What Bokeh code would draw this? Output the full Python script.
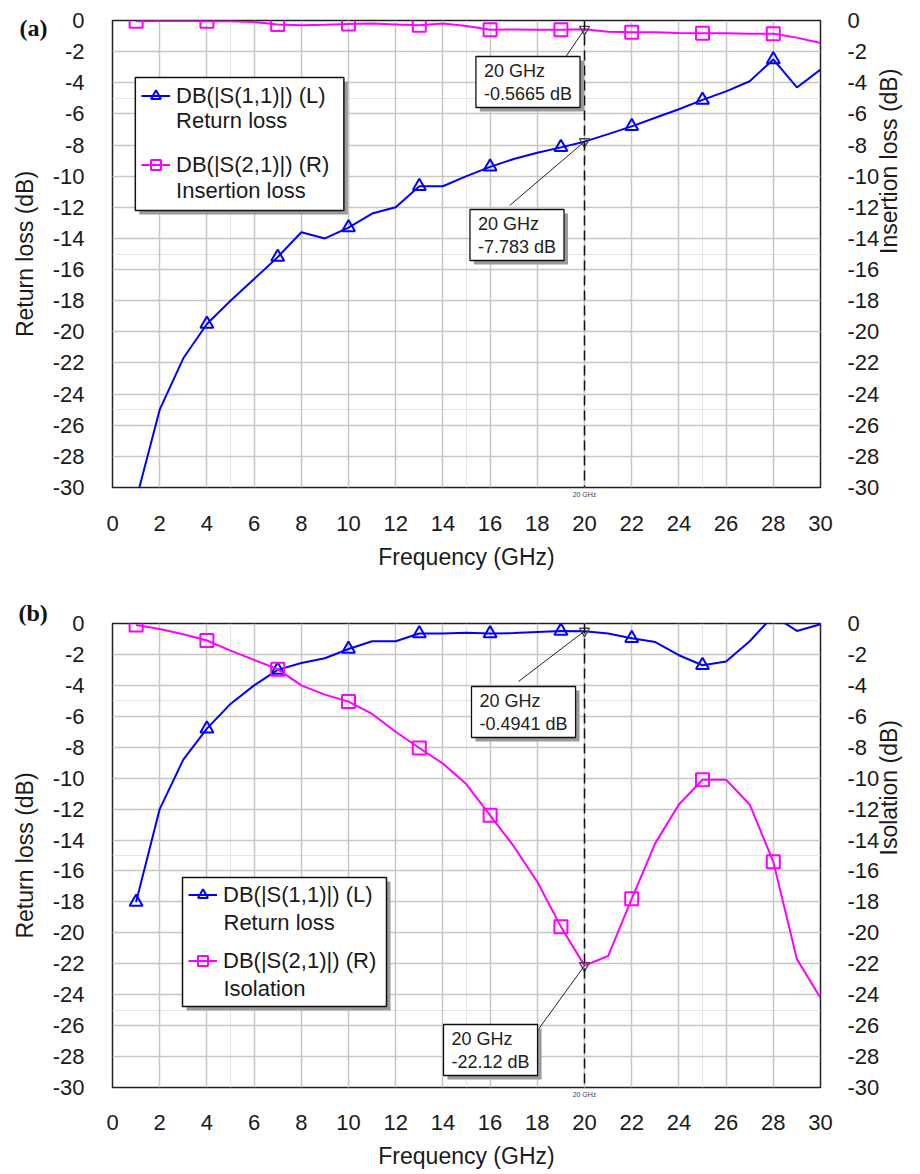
import math
from bokeh.plotting import figure
from bokeh.models import (Range1d, LinearAxis, Span, Label, Legend, LegendItem, Grid, Title,
                          SingleIntervalTicker, FixedTicker, BoxAnnotation, ColumnDataSource,
                          PrintfTickFormatter)
from bokeh.layouts import column
from bokeh.embed import file_html
from bokeh.resources import INLINE

# ---------------- data ----------------
freq = list(range(1, 31))
marker_freq = [1, 4, 7, 10, 13, 16, 19, 22, 25, 28]

# panel (a)
s11_a = [-30.8, -25.0, -21.7, -19.5, -18.0, -16.6, -15.2, -13.6, -14.0, -13.3,
         -12.4, -12.0, -10.65, -10.65, -10.0, -9.4, -8.9, -8.5, -8.15, -7.783,
         -7.3, -6.8, -6.25, -5.7, -5.1, -4.55, -3.9, -2.5, -4.3, -3.15]
s21_a = [-0.05, -0.03, -0.02, -0.05, -0.05, -0.1, -0.25, -0.3, -0.28, -0.22,
         -0.2, -0.25, -0.3, -0.2, -0.35, -0.6, -0.58, -0.6, -0.6, -0.5665,
         -0.72, -0.75, -0.75, -0.8, -0.82, -0.82, -0.85, -0.85, -1.1, -1.45]
# panel (b)
s11_b = [-18.0, -12.0, -8.8, -6.8, -5.2, -4.0, -3.0, -2.55, -2.25, -1.65,
         -1.15, -1.15, -0.65, -0.65, -0.6, -0.65, -0.62, -0.55, -0.48, -0.4941,
         -0.65, -0.95, -1.2, -2.05, -2.7, -2.45, -1.15, 0.5, -0.48, -0.05]
s21_b = [-0.1, -0.35, -0.7, -1.1, -1.75, -2.35, -2.95, -4.0, -4.6, -5.05,
         -5.85, -7.0, -8.05, -9.05, -10.4, -12.4, -14.4, -16.7, -19.6, -22.12,
         -21.5, -17.8, -14.2, -11.7, -10.1, -10.1, -11.7, -15.4, -21.7, -24.2]

x_ticks_interval = 2
y_ticks_interval = 2
marker_at = 20

legend_a = [("DB(|S(1,1)|) (L)", "Return loss"), ("DB(|S(2,1)|) (R)", "Insertion loss")]
legend_b = [("DB(|S(1,1)|) (L)", "Return loss"), ("DB(|S(2,1)|) (R)", "Isolation")]

FONT = "Liberation Sans"
BLUE = "#0000ff"
MAG = "#ff00ff"
TXT = "#1a1a1a"

W = 920


def px2d(px, py, g):
    x = (px - g["L"]) / (g["R"] - g["L"]) * 30.0
    y = -(py - g["T"]) / (g["B"] - g["T"]) * 30.0
    return x, y


def style_axis(ax, size="22px"):
    ax.axis_line_color = None
    ax.major_tick_line_color = None
    ax.minor_tick_line_color = None
    ax.major_tick_out = 0
    ax.major_tick_in = 0
    ax.minor_tick_out = 0
    ax.minor_tick_in = 0
    ax.major_label_text_font = FONT
    ax.major_label_text_font_size = size
    ax.major_label_text_color = TXT
    ax.axis_label_text_font = FONT
    ax.axis_label_text_font_size = "23px"
    ax.axis_label_text_font_style = "normal"
    ax.axis_label_text_color = TXT


def build(s11, s21, right_label, right_label_len, legend_labels, g, top_page, height, tag,
          tag_in_title, legend_rows, legend_px, legend_x, annots, xtick_standoff, xlab_standoff):
    p = figure(width=W, height=height, x_range=Range1d(0, 30), y_range=Range1d(-30, 0),
               output_backend="svg", toolbar_location=None,
               x_axis_location=None, y_axis_location=None,
               min_border_left=g["L"], min_border_right=W - g["R"],
               min_border_top=g["T"] - top_page,
               min_border_bottom=height - (g["B"] - top_page),
               background_fill_color="white", border_fill_color="white",
               outline_line_color="#202020", outline_line_width=1.5)
    p.extra_y_ranges = {"right": Range1d(-30, 0)}
    fmt = PrintfTickFormatter(format="%d")

    # left: inner tick axis, outer axis with panel tag + title
    yl = LinearAxis(ticker=SingleIntervalTicker(interval=y_ticks_interval, num_minor_ticks=0),
                    formatter=fmt)
    style_axis(yl)
    yl.major_label_standoff = 28
    p.add_layout(yl, "left")
    tag_tick = -0.5
    yt = LinearAxis(ticker=FixedTicker(ticks=[tag_tick]),
                    major_label_overrides={tag_tick: tag})
    style_axis(yt, "24px")
    yt.major_label_text_font = "Liberation Serif"
    yt.major_label_text_font_style = "bold"
    yt.major_label_text_color = "#111111"
    yt.major_label_standoff = 2
    yt.axis_label = "Return loss (dB)"
    if tag_in_title:
        yt.major_label_text_alpha = 0
        yt.axis_label_standoff = 12
    else:
        yt.axis_label_standoff = -21
    p.add_layout(yt, "left")

    if tag_in_title:
        p.add_layout(Title(text=tag, align="left", offset=18 - g["L"], standoff=-4,
                           vertical_align="bottom", text_font="Liberation Serif",
                           text_font_size="24px", text_font_style="bold",
                           text_color="#111111"), "above")

    # right axis: tick labels ...
    yr = LinearAxis(y_range_name="right",
                    ticker=SingleIntervalTicker(interval=y_ticks_interval, num_minor_ticks=0),
                    formatter=fmt)
    style_axis(yr)
    yr.major_label_standoff = 27
    p.add_layout(yr, "right")
    # ... and its title, read bottom-to-top, centred on the frame
    frame_h = g["B"] - g["T"]
    start_px = frame_h / 2 + right_label_len / 2
    mid_val = -start_px / frame_h * 30.0
    yr2 = LinearAxis(y_range_name="right", ticker=FixedTicker(ticks=[]),
                     bounds=(-30.0, 2 * mid_val + 30.0))
    style_axis(yr2)
    yr2.major_label_standoff = 0
    yr2.axis_label = right_label
    yr2.axis_label_standoff = 6
    yr2.axis_label_orientation = math.pi / 2
    p.add_layout(yr2, "right")

    # below: tiny marker-frequency tag, then main axis
    xt = LinearAxis(ticker=FixedTicker(ticks=[marker_at]),
                    major_label_overrides={marker_at: f"{marker_at} GHz"})
    style_axis(xt, "7px")
    xt.major_label_text_color = "#334466"
    xt.major_label_standoff = 3
    p.add_layout(xt, "below")
    xa = LinearAxis(ticker=SingleIntervalTicker(interval=x_ticks_interval, num_minor_ticks=0),
                    formatter=fmt)
    style_axis(xa)
    xa.major_label_standoff = xtick_standoff
    xa.axis_label = "Frequency (GHz)"
    xa.axis_label_standoff = xlab_standoff
    p.add_layout(xa, "below")

    for dim, iv in ((0, x_ticks_interval), (1, y_ticks_interval)):
        p.add_layout(Grid(dimension=dim, ticker=SingleIntervalTicker(interval=iv, num_minor_ticks=0),
                          grid_line_color="#c6c6c6", grid_line_width=1.5))

    # vertical marker line
    p.add_layout(Span(location=marker_at, dimension="height", line_color="#111111",
                      line_width=1.5, line_dash="10 5"))

    src = ColumnDataSource(dict(f=freq, s11=s11, s21=s21))
    mk = [freq.index(m) for m in marker_freq]
    msrc = ColumnDataSource(dict(f=[freq[i] for i in mk], s11=[s11[i] for i in mk],
                                 s21=[s21[i] for i in mk]))
    l1 = p.line("f", "s11", source=src, line_color=BLUE, line_width=2)
    m1 = p.scatter("f", "s11", source=msrc, marker="triangle", size=13,
                   line_color=BLUE, line_width=2, fill_alpha=0)
    l2 = p.line("f", "s21", source=src, line_color=MAG, line_width=2, y_range_name="right")
    m2 = p.scatter("f", "s21", source=msrc, marker="square", size=13,
                   line_color=MAG, line_width=2, fill_alpha=0, y_range_name="right")

    # marker points at 20 GHz
    i20 = freq.index(marker_at)
    mpts = ColumnDataSource(dict(f=[marker_at, marker_at], v=[s11[i20], s21[i20]]))
    p.scatter("f", "v", source=mpts, marker="inverted_triangle", size=10,
              line_color="#444444", line_width=1.3, fill_alpha=0)

    # annotation boxes
    pad = dict(left=8, right=8, top=4, bottom=4)
    for text, bl, bt, lx, ly, val in annots:
        x0, y0 = px2d(lx, ly, g)
        p.segment(x0=[x0], y0=[y0], x1=[marker_at], y1=[val], line_color="#222222", line_width=1)
        tx, ty = px2d(bl + 8, bt + 4, g)
        sh = Label(x=tx, y=ty, text=text, text_font=FONT, text_font_size="18px",
                   text_line_height=1.15,
                   text_color="rgba(0,0,0,0)", text_align="left", text_baseline="top",
                   background_fill_color="#9a9a9a", padding=pad, x_offset=4, y_offset=-4)
        lb = Label(x=tx, y=ty, text=text, text_font=FONT, text_font_size="18px",
                   text_line_height=1.15,
                   text_color="#222222", text_align="left", text_baseline="top",
                   background_fill_color="white", border_line_color="#111111",
                   border_line_width=1.3, padding=pad)
        p.add_layout(sh)
        p.add_layout(lb)

    # legend frame + shadow
    sl, sr, st, sb = legend_px
    x_l, y_t = px2d(sl + 4, st + 4, g)
    x_r, y_b = px2d(sr + 4, sb + 4, g)
    p.add_layout(BoxAnnotation(left=x_l, right=x_r, top=y_t, bottom=y_b,
                               fill_color="#9a9a9a", fill_alpha=1, line_color=None))
    x_l, y_t = px2d(sl, st, g)
    x_r, y_b = px2d(sr, sb, g)
    p.add_layout(BoxAnnotation(left=x_l, right=x_r, top=y_t, bottom=y_b,
                               fill_color="white", fill_alpha=1, line_color="#111111",
                               line_width=1.5, line_alpha=1))

    r1, r2, r3, r4 = legend_rows
    item_h = 25
    spacing = (r3 - r1) - item_h
    box_bottom = r3 + item_h / 2
    leg = Legend(items=[LegendItem(label=legend_labels[0][0], renderers=[l1, m1]),
                        LegendItem(label=legend_labels[1][0], renderers=[l2, m2])],
                 location=(legend_x - g["L"], g["B"] - box_bottom), orientation="vertical",
                 label_text_font=FONT, label_text_font_size="22px", label_text_color=TXT,
                 label_height=item_h, glyph_height=item_h,
                 glyph_width=29, label_standoff=6, spacing=int(round(spacing)),
                 padding=0, margin=0, border_line_color=None,
                 background_fill_alpha=0)
    p.add_layout(leg, "center")
    # second text line of each legend entry
    for (first, second), ry in ((legend_labels[0], r2), (legend_labels[1], r4)):
        tx, ty = px2d(legend_x + 29 + 6, ry, g)
        p.add_layout(Label(x=tx, y=ty, text=second, text_font=FONT, text_font_size="22px",
                           text_color=TXT, text_align="left", text_baseline="middle"))
    return p


ga = dict(L=110, R=823, T=20, B=487)
gb = dict(L=112, R=820, T=623, B=1087)

annots_a = [("20 GHz\n-0.5665 dB", 468, 52, 557, 70, s21_a[freq.index(marker_at)]),
            ("20 GHz\n-7.783 dB", 462, 205, 510, 205, s11_a[freq.index(marker_at)])]
annots_b = [("20 GHz\n-0.4941 dB", 463, 682, 518, 681, s11_b[freq.index(marker_at)]),
            ("20 GHz\n-22.12 dB", 435, 1020, 532, 1037, s21_b[freq.index(marker_at)])]

H1, H2 = 580, 592
pa = build(s11_a, s21_a, "Insertion loss (dB)", 190, legend_a, ga, 0, H1, "(a)", False,
           (97, 120, 165, 190), (133, 343, 77, 210), 139, annots_a, 15, 10)
pb = build(s11_b, s21_b, "Isolation (dB)", 138, legend_b, gb, H1, H2, "(b)", True,
           (896, 922, 961, 988), (182, 386, 877, 1006), 188, annots_b, 14, 10)

layout = column(pa, pb, spacing=0)
open("out.html", "w").write(file_html(layout, INLINE))
